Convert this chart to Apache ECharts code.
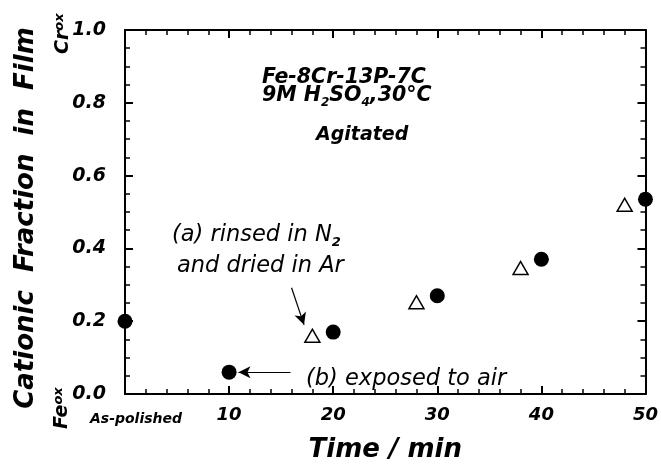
<!DOCTYPE html>
<html>
<head>
<meta charset="utf-8">
<script src="https://cdn.jsdelivr.net/npm/echarts@6/dist/echarts.min.js"></script>
<style>
  html, body { margin: 0; padding: 0; background: #fff; }
  #main { width: 661px; height: 468px; }
</style>
</head>
<body>
<div id="main"></div>
<script>
// time (min) and cationic fraction for each marker set
var timeCircle = [0, 10, 20, 30, 40, 50];
var fracCircle = [0.20, 0.06, 0.17, 0.27, 0.37, 0.535];
var timeTri = [18, 28, 38, 48];
var fracTri = [0.16, 0.252, 0.346, 0.52];
var xTicks = [0, 10, 20, 30, 40, 50];
var yTicks = [0, 0.2, 0.4, 0.6, 0.8, 1.0];

var FONT = '"DejaVu Sans", Verdana, sans-serif';

var dom = document.getElementById('main');
var myChart = echarts.init(dom);

function pairs(xs, ys) {
    return xs.map(function (x, i) { return [x, ys[i]]; });
}

var frameAxis = {
    onZero: false,
    lineStyle: { color: '#000', width: 2 }
};
var tickIn = { show: true, inside: true, length: 8, lineStyle: { color: '#000', width: 2 } };
function minor(n) {
    return { show: true, splitNumber: n, length: 5, lineStyle: { color: '#000', width: 1.5 } };
}

option = {
    backgroundColor: '#fff',
    animation: false,
    grid: { left: 125, right: 10, top: 30, bottom: 67 },
    xAxis: [{
        type: 'value',
        min: 0, max: 50, interval: 10,
        name: 'Time / min',
        nameLocation: 'middle',
        nameGap: 43,
        nameTextStyle: { fontFamily: FONT, fontSize: 26, fontWeight: 'bold', fontStyle: 'italic', color: '#000' },
        axisLine: frameAxis,
        axisTick: tickIn,
        minorTick: minor(5),
        splitLine: { show: false },
        axisLabel: {
            margin: 12,
            fontFamily: FONT, fontSize: 18, fontWeight: 'bold', fontStyle: 'italic', color: '#000',
            formatter: function (v) {
                if (v === xTicks[0]) return '{p|As-polished}';
                return String(v);
            },
            rich: {
                p: { fontFamily: FONT, fontSize: 14, fontWeight: 'bold', fontStyle: 'italic', color: '#000', padding: [6, 0, 0, 22] }
            }
        }
    }, {
        type: 'value',
        position: 'top',
        min: 0, max: 50, interval: 10,
        axisLine: frameAxis,
        axisTick: tickIn,
        minorTick: minor(5),
        splitLine: { show: false },
        axisLabel: { show: false }
    }],
    yAxis: [{
        type: 'value',
        min: 0, max: 1, interval: 0.2,
        name: 'Cationic  Fraction  in  Film',
        nameLocation: 'middle',
        nameGap: 86,
        nameTextStyle: { fontFamily: FONT, fontSize: 26, fontWeight: 'bold', fontStyle: 'italic', color: '#000', padding: [0, 12, 0, 0] },
        axisLine: frameAxis,
        axisTick: tickIn,
        minorTick: minor(4),
        splitLine: { show: false },
        axisLabel: {
            margin: 19,
            fontFamily: FONT, fontSize: 19, fontWeight: 'bold', fontStyle: 'italic', color: '#000',
            formatter: function (v) { return v.toFixed(1); }
        }
    }, {
        type: 'value',
        position: 'right',
        min: 0, max: 1, interval: 0.2,
        axisLine: frameAxis,
        axisTick: tickIn,
        minorTick: minor(4),
        splitLine: { show: false },
        axisLabel: { show: false }
    }],
    series: [{
        name: 'exposed',
        type: 'scatter',
        data: pairs(timeCircle, fracCircle),
        symbol: 'circle',
        symbolSize: 15,
        clip: false,
        itemStyle: { color: '#000', opacity: 1 },
        z: 5,
        markLine: {
            silent: true,
            symbol: ['none', 'arrow'],
            symbolSize: [9, 12],
            label: { show: false },
            lineStyle: { color: '#000', width: 1.2, type: 'solid', opacity: 1 },
            data: [
                [{ coord: [15.9, 0.06] }, { coord: [10.9, 0.06] }],
                [{ coord: [16.0, 0.292] }, { coord: [17.2, 0.19] }]
            ]
        }
    }, {
        name: 'rinsed',
        type: 'scatter',
        data: pairs(timeTri, fracTri),
        symbol: 'triangle',
        symbolSize: [15, 13],
        clip: false,
        itemStyle: { color: '#fff', borderColor: '#000', borderWidth: 1.5, opacity: 1 },
        z: 5
    }],
    graphic: [
        {
            type: 'text', left: 262, top: 68,
            style: { text: 'Fe-8Cr-13P-7C', font: 'italic bold 20.5px ' + FONT, fill: '#000' }
        },
        {
            type: 'text', left: 262, top: 86,
            style: {
                text: '9M H{s|2}SO{s|4},30°C',
                font: 'italic bold 20.5px ' + FONT, fill: '#000',
                rich: { s: { font: 'italic bold 12px ' + FONT, fill: '#000', padding: [14, 0, 0, 0] } }
            }
        },
        {
            type: 'text', left: 316, top: 126,
            style: { text: 'Agitated', font: 'italic bold 19px ' + FONT, fill: '#000' }
        },
        {
            type: 'text', left: 172, top: 224,
            style: {
                text: '(a) rinsed in N{s|2}',
                font: 'italic 22.5px ' + FONT, fill: '#000',
                rich: { s: { font: 'italic bold 13px ' + FONT, fill: '#000', padding: [15, 0, 0, 0] } }
            }
        },
        {
            type: 'text', left: 177, top: 255,
            style: { text: 'and dried in Ar', font: 'italic 22.5px ' + FONT, fill: '#000' }
        },
        {
            type: 'text', left: 306, top: 368,
            style: { text: '(b) exposed to air', font: 'italic 22.5px ' + FONT, fill: '#000' }
        },
        {
            type: 'text', x: 53, y: 54, rotation: Math.PI / 2,
            style: {
                text: 'Cr{s|ox}',
                font: 'italic bold 19px ' + FONT, fill: '#000',
                rich: { s: { font: 'italic bold 13px ' + FONT, fill: '#000', padding: [0, 0, 8, 0] } }
            }
        },
        {
            type: 'text', x: 52, y: 429, rotation: Math.PI / 2,
            style: {
                text: 'Fe{s|ox}',
                font: 'italic bold 19px ' + FONT, fill: '#000',
                rich: { s: { font: 'italic bold 13px ' + FONT, fill: '#000', padding: [0, 0, 8, 0] } }
            }
        }
    ]
};

if (option && typeof option === 'object') {
    myChart.setOption(option, true);
}
</script>
</body>
</html>
